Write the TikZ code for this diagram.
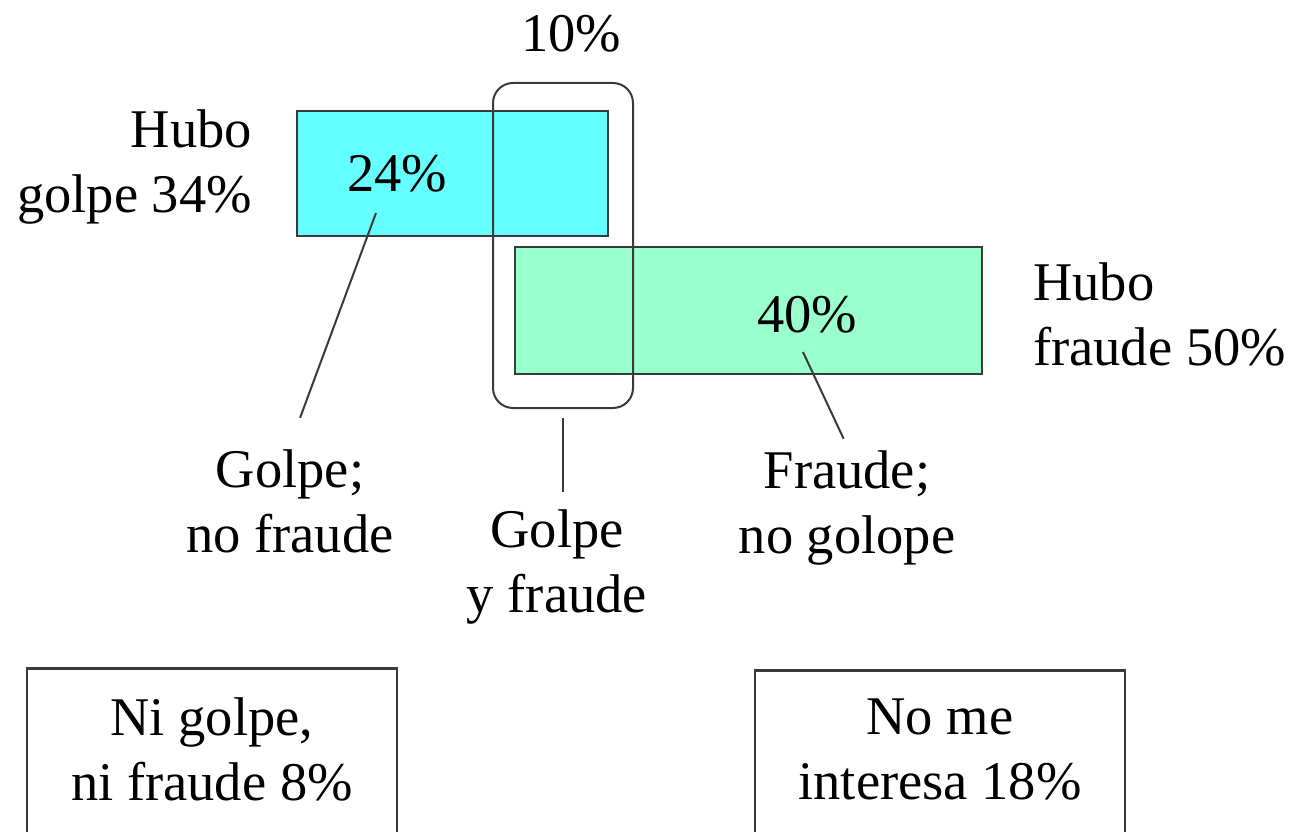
\documentclass[tikz,border=0pt]{standalone}
\usepackage{fontspec}
\setmainfont{Liberation Serif}
\usepackage{tikz}
\usetikzlibrary{calc}
\definecolor{golpecolor}{HTML}{66FFFF}
\definecolor{fraudecolor}{HTML}{99FFCC}
\definecolor{edgegray}{HTML}{3A3A3A}
\tikzset{
    big_font/.style={font=\fontsize{54.5}{65}\selectfont},
    area/.style={rectangle, draw=edgegray, line width=2pt, inner sep=0pt},
    overlap/.style={rectangle, rounded corners=20pt, draw=edgegray, line width=2pt, inner sep=0pt},
    label_text/.style={big_font, inner sep=4pt},
    outer_block/.style={rectangle, draw=edgegray, line width=2.5pt, big_font, align=center,
        inner xsep=0pt, inner ysep=29pt, text depth=30pt, minimum width=370pt},
    line/.style={draw=edgegray, line width=2pt},
}
\begin{document}
\begin{tikzpicture}
        [x=1pt, y=-1pt]

        \useasboundingbox (0,0) rectangle (1294,832);
        \clip (0,0) rectangle (1294,832);

        % The two answer areas
        \node[area, fill=golpecolor, minimum width=311pt, minimum height=125pt] (golpe) at (452.5,173.5) {};
        \node[area, fill=fraudecolor, minimum width=467pt, minimum height=127pt] (fraude) at (748.5,310.5) {};

        % Overlap frame
        \node[overlap, minimum width=140pt, minimum height=325pt] (both) at (563,245.5) {};

        % Percentages
        \node[label_text, anchor=base] (p10) at (571,52) {10\%};
        \node[label_text, anchor=base] (p24) at (397,192) {24\%};
        \node[label_text, anchor=base] (p40) at (807,332) {40\%};

        % Side labels (base = last line)
        \node[label_text, align=right, anchor=base east] (hgolpe) at (256,212) {Hubo\\golpe 34\%};
        \node[label_text, align=left, anchor=base west] (hfraude) at (1029,365) {Hubo\\fraude 50\%};

        % Labels below
        \node[label_text, align=center, anchor=base] (gnf) at (290,552) {Golpe;\\no fraude};
        \node[label_text, align=center, anchor=base] (gyf) at (557,612) {Golpe\\y fraude};
        \node[label_text, align=center, anchor=base] (fng) at (847,553) {Fraude;\\no golope};

        % Pointers
        \coordinate (gnftip) at (376,213);
        \coordinate (fngtip) at (803,352);
        \draw[line, shorten >=29pt] (gnftip) -- (gnf.north);
        \draw[line, shorten <=9pt, shorten >=13pt] (both.south) -- (both.south |- gyf.north);
        \draw[line, shorten >=8pt] (fngtip) -- (fng.north);

        % Outside answers
        \node[outer_block, anchor=north] (ninguno) at (212,667) {Ni golpe,\\ni fraude 8\%};
        \node[outer_block, anchor=north] (nointeresa) at (940,669) {No me\\interesa 18\%};
    \end{tikzpicture}
\end{document}
